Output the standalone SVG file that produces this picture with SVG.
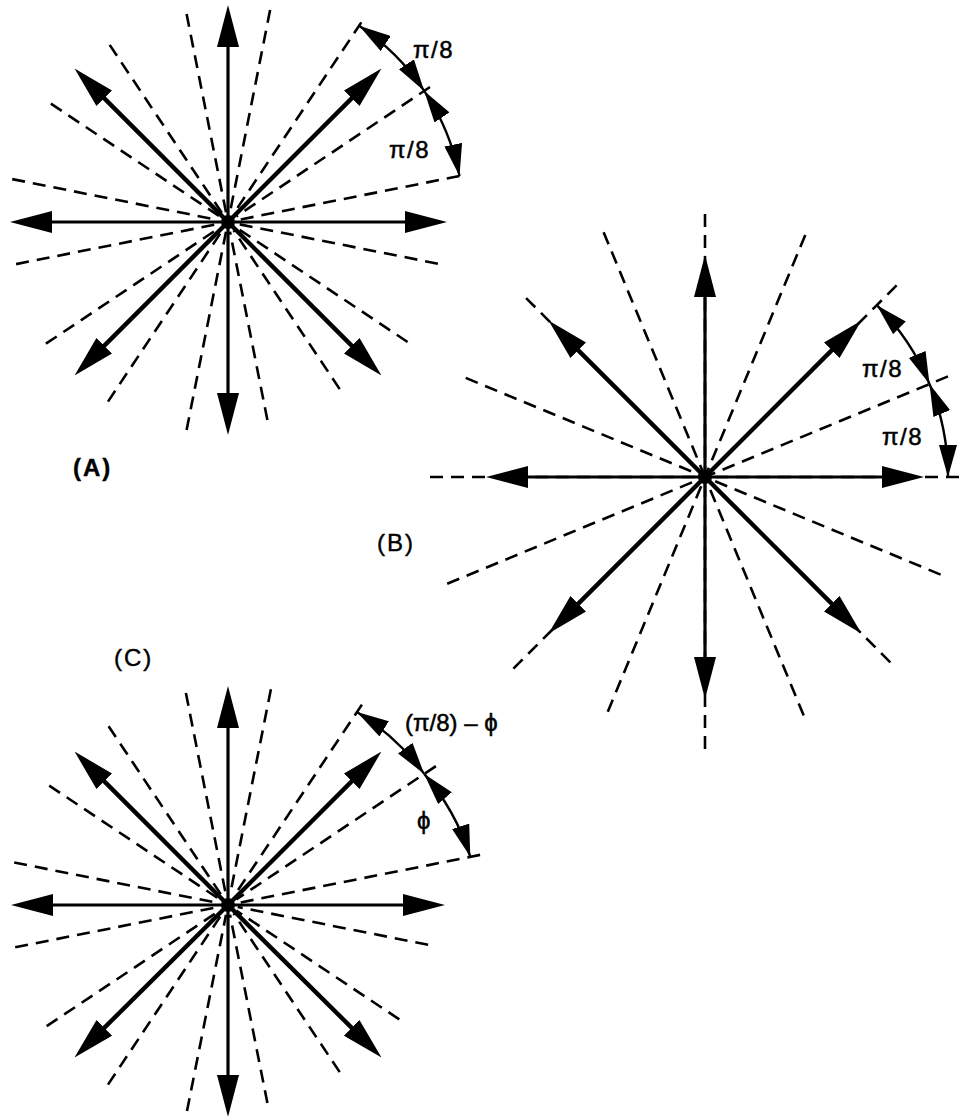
<svg xmlns="http://www.w3.org/2000/svg" width="959" height="1116" viewBox="0 0 959 1116">
<style>
.dash{stroke:#000;stroke-width:2.6;stroke-dasharray:13 8;fill:none}
.ax{stroke:#000;stroke-width:3.2;fill:none;marker-end:url(#ah)}
.dg{stroke:#000;stroke-width:4.4;fill:none;marker-end:url(#ah)}
.dim{stroke:#000;stroke-width:2.4;fill:none;marker-start:url(#dh);marker-end:url(#dh)}
.lbl{font-family:"Liberation Sans",Arial,"DejaVu Sans",sans-serif;font-size:24px;fill:#000;stroke:#000;stroke-width:0.5}
.tag{font-family:"Liberation Sans",Arial,sans-serif;font-size:24px;fill:#000;letter-spacing:2px;stroke:#000;stroke-width:0.4}
</style>
<defs>
<marker id="ah" markerUnits="userSpaceOnUse" markerWidth="42" markerHeight="22" refX="20" refY="11" orient="auto" viewBox="0 0 42 22"><path d="M0,0 L42,11 L0,22 z" fill="#000"/></marker>
<marker id="dh" markerUnits="userSpaceOnUse" markerWidth="32" markerHeight="18" refX="32" refY="9" orient="auto-start-reverse" viewBox="0 0 32 18"><path d="M0,0 L32,9 L0,18 z" fill="#000"/></marker>
</defs>

<g id="diagram-A">
<g id="A-dashes">
<path class="dash" d="M459.5,176.0 L237.8,220.0"/>
<path class="dash" d="M430.0,87.0 L236.3,216.4"/>
<path class="dash" d="M361.3,22.4 L233.6,213.7"/>
<path class="dash" d="M270.1,10.1 L230.0,212.2"/>
<path class="dash" d="M186.6,14.1 L226.0,212.2"/>
<path class="dash" d="M109.7,44.9 L222.4,213.7"/>
<path class="dash" d="M50.9,103.7 L219.7,216.4"/>
<path class="dash" d="M12.2,179.1 L218.2,220.0"/>
<path class="dash" d="M16.1,264.1 L218.2,224.0"/>
<path class="dash" d="M45.9,343.7 L219.7,227.6"/>
<path class="dash" d="M108.0,401.6 L222.4,230.3"/>
<path class="dash" d="M186.6,429.9 L226.0,231.8"/>
<path class="dash" d="M267.4,420.1 L230.0,231.8"/>
<path class="dash" d="M339.7,389.1 L233.6,230.3"/>
<path class="dash" d="M407.6,342.0 L236.3,227.6"/>
<path class="dash" d="M437.9,263.7 L237.8,224.0"/>
</g>
<g id="A-arrows">
<path class="ax" d="M228,222 L228,27"/>
<path class="ax" d="M228,222 L228,413"/>
<path class="ax" d="M228,222 L32,222"/>
<path class="ax" d="M228,222 L425,222"/>
<path class="dg" d="M228,222 L90.1,84.1"/>
<path class="dg" d="M228,222 L365.9,84.1"/>
<path class="dg" d="M228,222 L90.1,359.9"/>
<path class="dg" d="M228,222 L365.9,359.9"/>
<circle cx="228" cy="222" r="7" fill="#000"/>
</g>
<g id="A-dims">
<path class="dim" d="M359.1,25.8 A236,236 0 0 1 424.2,90.9"/>
<path class="dim" d="M424.2,90.9 A236,236 0 0 1 459.5,176.0"/>
<text class="lbl" x="413" y="58" letter-spacing="1.5">π/8</text>
<text class="lbl" x="389" y="158" letter-spacing="1.5">π/8</text>
</g>
<text id="A-tag" class="tag" x="73" y="476" font-weight="bold">(A)</text>
</g>

<g id="diagram-B">
<g id="B-dashes">
<path class="dash" d="M959,477 L705,477"/>
<path class="dash" d="M948.0,376.4 L705,477"/>
<path class="dash" d="M896.6,285.4 L705,477"/>
<path class="dash" d="M805.3,234.9 L705,477"/>
<path class="dash" d="M705,214 L705,477"/>
<path class="dash" d="M603.6,232.2 L705,477"/>
<path class="dash" d="M526.1,298.1 L705,477"/>
<path class="dash" d="M465.7,377.9 L705,477"/>
<path class="dash" d="M430,477 L705,477"/>
<path class="dash" d="M447.2,583.8 L705,477"/>
<path class="dash" d="M513.4,668.6 L705,477"/>
<path class="dash" d="M607.8,711.7 L705,477"/>
<path class="dash" d="M705,749 L705,477"/>
<path class="dash" d="M803.7,715.4 L705,477"/>
<path class="dash" d="M890.3,662.3 L705,477"/>
<path class="dash" d="M940.6,574.6 L705,477"/>
</g>
<g id="B-arrows">
<path class="ax" d="M705,477 L705,277"/>
<path class="ax" d="M705,477 L705,677"/>
<path class="ax" d="M705,477 L508,477"/>
<path class="ax" d="M705,477 L902,477"/>
<path class="dg" d="M705,477 L564.1,336.1"/>
<path class="dg" d="M705,477 L845.9,336.1"/>
<path class="dg" d="M705,477 L564.1,617.9"/>
<path class="dg" d="M705,477 L845.9,617.9"/>
<circle cx="705" cy="477" r="7" fill="#000"/>
</g>
<g id="B-dims">
<path class="dim" d="M876.8,305.2 A243,243 0 0 1 929.5,384.0"/>
<path class="dim" d="M929.5,384.0 A243,243 0 0 1 948,477"/>
<text class="lbl" x="862" y="377" letter-spacing="1.5">π/8</text>
<text class="lbl" x="882" y="445" letter-spacing="1.5">π/8</text>
</g>
<text id="B-tag" class="tag" x="377" y="551">(B)</text>
</g>

<g id="diagram-C">
<g id="C-dashes">
<path class="dash" d="M480.1,854.9 L237.8,903.0"/>
<path class="dash" d="M435.9,766.1 L236.3,899.4"/>
<path class="dash" d="M361.9,704.6 L233.6,896.7"/>
<path class="dash" d="M270.9,689.2 L230.0,895.2"/>
<path class="dash" d="M185.9,693.1 L226.0,895.2"/>
<path class="dash" d="M108.6,726.2 L222.4,896.7"/>
<path class="dash" d="M49.2,785.6 L219.7,899.4"/>
<path class="dash" d="M14.2,862.5 L218.2,903.0"/>
<path class="dash" d="M15.2,947.3 L218.2,907.0"/>
<path class="dash" d="M46.7,1026.1 L219.7,910.6"/>
<path class="dash" d="M108.0,1084.6 L222.4,913.3"/>
<path class="dash" d="M187.0,1111.0 L226.0,914.8"/>
<path class="dash" d="M267.4,1103.1 L230.0,914.8"/>
<path class="dash" d="M339.7,1072.1 L233.6,913.3"/>
<path class="dash" d="M399.3,1019.4 L236.3,910.6"/>
<path class="dash" d="M428.1,944.8 L237.8,907.0"/>
</g>
<g id="C-arrows">
<path class="ax" d="M228,905 L228,708"/>
<path class="ax" d="M228,905 L228,1095"/>
<path class="ax" d="M228,905 L33,905"/>
<path class="ax" d="M228,905 L423,905"/>
<path class="dg" d="M228,905 L90.1,767.1"/>
<path class="dg" d="M228,905 L365.9,767.1"/>
<path class="dg" d="M228,905 L90.1,1041.9"/>
<path class="dg" d="M228,905 L365.9,1041.9"/>
<circle cx="228" cy="905" r="7" fill="#000"/>
</g>
<g id="C-dims">
<path class="dim" d="M356.9,712.1 A238,238 0 0 1 424.2,773.9"/>
<path class="dim" d="M424.2,773.9 A238,238 0 0 1 470.3,856.8"/>
<text class="lbl" x="405" y="731">(π/8) – ϕ</text>
<text class="lbl" x="417" y="829">ϕ</text>
</g>
<text id="C-tag" class="tag" x="114" y="666">(C)</text>
</g>
</svg>
